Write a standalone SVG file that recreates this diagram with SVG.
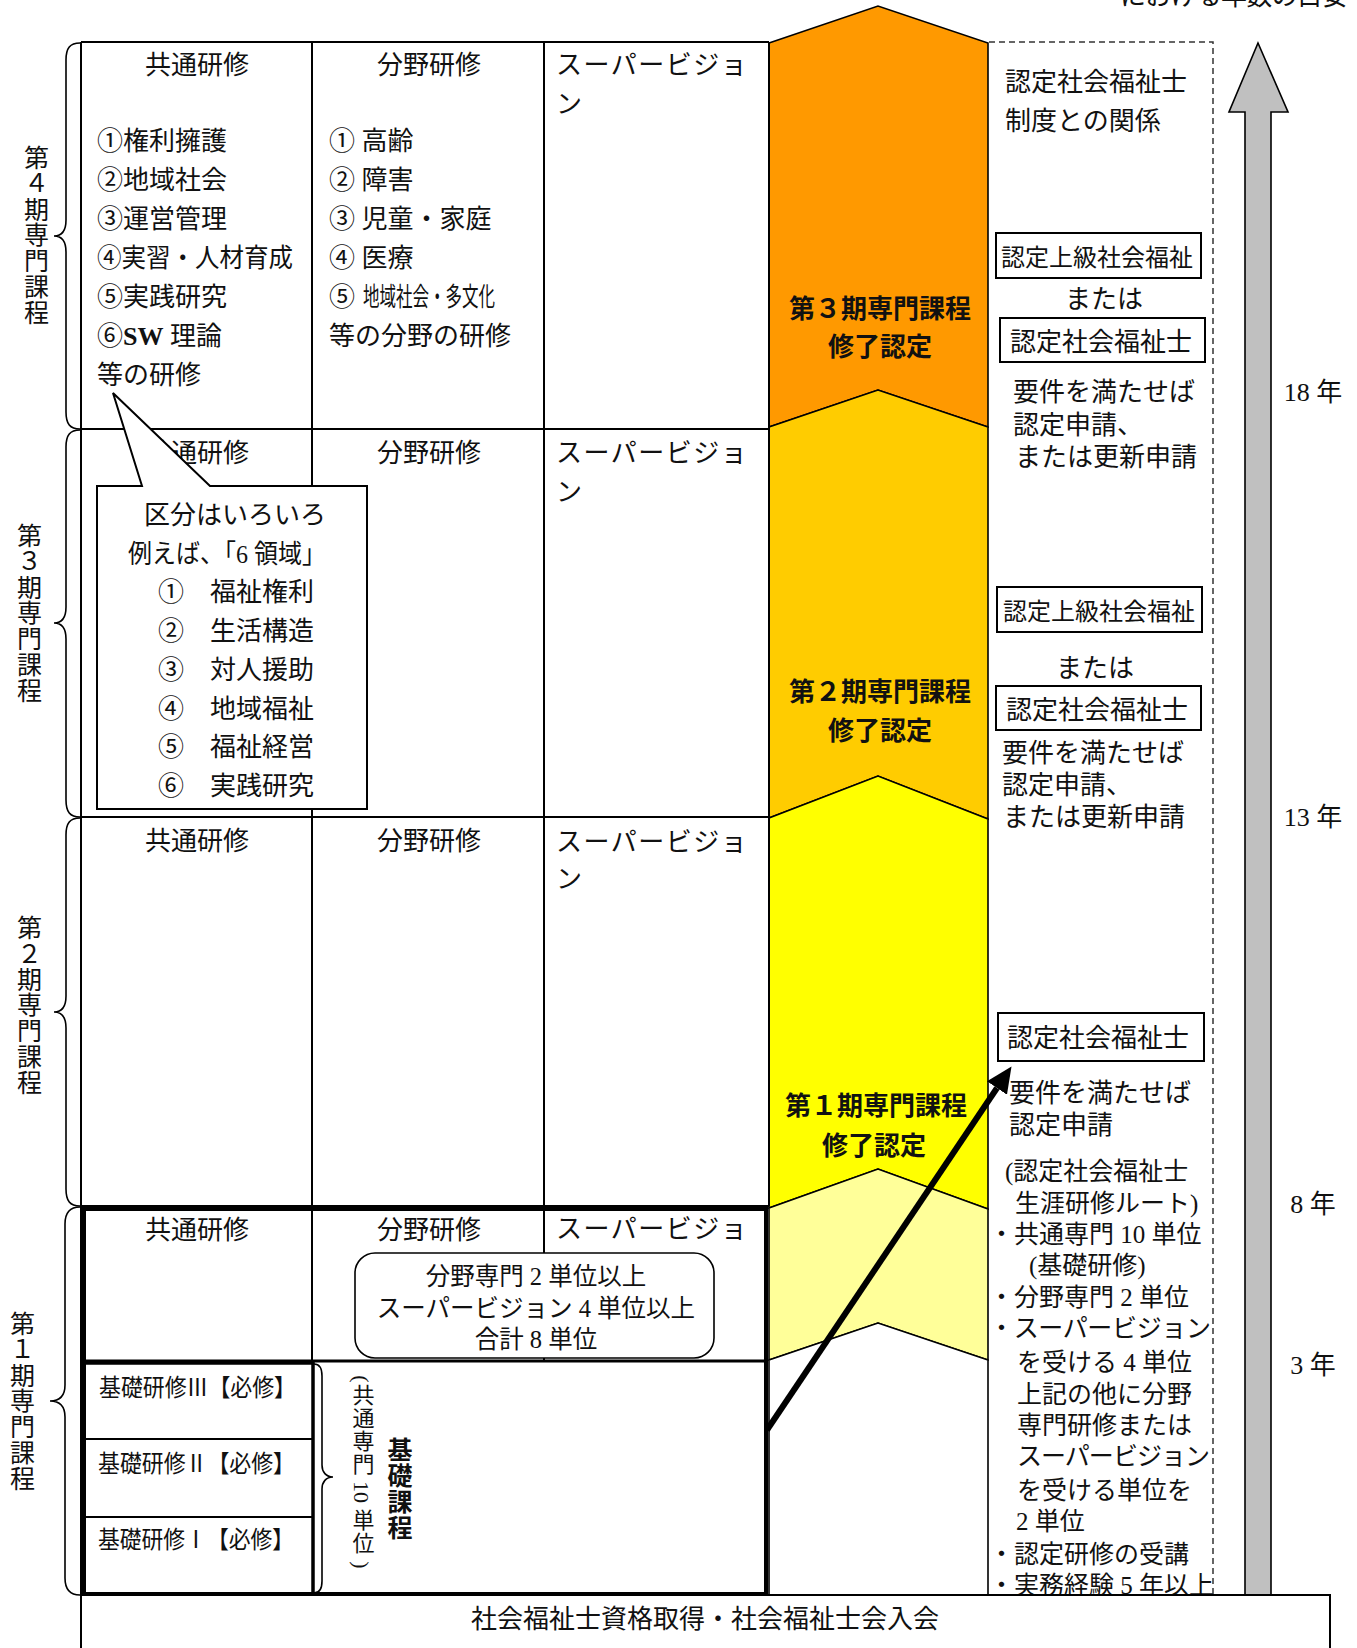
<svg xmlns="http://www.w3.org/2000/svg" width="1357" height="1648" viewBox="0 0 1357 1648">
<defs>
<style>
.m{font-family:"Liberation Serif","Noto Sans CJK JP",serif;font-size:26px;fill:#111}
.b{font-family:"Noto Sans CJK JP","Liberation Sans",sans-serif;font-weight:bold;font-size:26px;fill:#111}
.s{font-size:25px}
.f22{font-size:22px}
.f23{font-size:23px}
.f24{font-size:24px}
.f245{font-size:24.5px}
.f25{font-size:25px}
.ln{stroke:#000;stroke-width:2;fill:none}
.thk{stroke:#000;stroke-width:4;fill:none}
.br{stroke:#000;stroke-width:1.6;fill:none}
.chev{stroke:#000;stroke-width:1.6}
.bx{fill:#fff;stroke:#000;stroke-width:2}
.sv{letter-spacing:1.5px}
.vt{writing-mode:vertical-rl}
.rot{text-anchor:middle;dominant-baseline:central}
.lab{font-size:25px;letter-spacing:0.8px}
</style>
<marker id="ah" markerUnits="userSpaceOnUse" markerWidth="28" markerHeight="26" refX="0" refY="12" orient="auto">
<path d="M0,0 L26,12 L0,24 Z" fill="#000"/>
</marker>
</defs>
<rect x="0" y="0" width="1357" height="1648" fill="#fff"/>

<text id="caption" class="m" x="1120" y="5" textLength="228">における年数の目安</text>

<g id="arrow-column">
<polygon class="chev" fill="#FF9900" points="769,43 878,6 988,43 988,427 878,390 769,427"/>
<polygon class="chev" fill="#FFCC00" points="769,427 878,390 988,427 988,819 878,776 769,818"/>
<polygon class="chev" fill="#FFFF00" points="769,818 878,776 988,819 988,1209 878,1169 769,1208"/>
<polygon class="chev" fill="#FFFF99" points="769,1208 878,1169 988,1209 988,1360 878,1323 769,1360"/>
<polygon class="chev" fill="#FFFFFF" points="769,1360 878,1323 988,1360 988,1595 769,1595"/>
<text class="b" x="880" y="318" text-anchor="middle">第３期専門課程</text>
<text class="b" x="880" y="356" text-anchor="middle">修了認定</text>
<text class="b" x="880" y="701" text-anchor="middle">第２期専門課程</text>
<text class="b" x="880" y="740" text-anchor="middle">修了認定</text>
<text class="b" x="876" y="1115" text-anchor="middle">第１期専門課程</text>
<text class="b" x="874" y="1155" text-anchor="middle">修了認定</text>
</g>

<g id="table-grid">
<line class="ln" x1="81" y1="42" x2="769" y2="42"/>
<line class="ln" x1="81" y1="429" x2="769" y2="429"/>
<line class="ln" x1="81" y1="817" x2="769" y2="817"/>
<line class="ln" x1="81" y1="1206" x2="769" y2="1206"/>
<line class="ln" x1="81" y1="42" x2="81" y2="1648"/>
<line class="ln" x1="312" y1="42" x2="312" y2="1361"/>
<line class="ln" x1="544" y1="42" x2="544" y2="1361"/>
<line class="ln" x1="769" y1="42" x2="769" y2="1206"/>
</g>

<g id="phase4">
<text class="m" x="197" y="74" text-anchor="middle">共通研修</text>
<text class="m" x="429" y="74" text-anchor="middle">分野研修</text>
<text class="m sv" x="556" y="74">スーパービジョ</text>
<text class="m" x="556" y="113">ン</text>
<text class="m" x="97" y="150">①権利擁護</text>
<text class="m" x="97" y="189">②地域社会</text>
<text class="m" x="97" y="228">③運営管理</text>
<text class="m" x="97" y="267" textLength="196" lengthAdjust="spacingAndGlyphs">④実習・人材育成</text>
<text class="m" x="97" y="306">⑤実践研究</text>
<text class="m" x="97" y="345">⑥<tspan font-weight="bold">SW</tspan> 理論</text>
<text class="m" x="97" y="384">等の研修</text>
<text class="m" x="329" y="150">① 高齢</text>
<text class="m" x="329" y="189">② 障害</text>
<text class="m" x="329" y="228">③ 児童・家庭</text>
<text class="m" x="329" y="267">④ 医療</text>
<text class="m" x="329" y="306">⑤</text>
<text class="m" x="363" y="306" textLength="132" lengthAdjust="spacingAndGlyphs">地域社会・多文化</text>
<text class="m" x="329" y="345">等の分野の研修</text>
</g>

<g id="phase3">
<text class="m" x="197" y="462" text-anchor="middle">共通研修</text>
<text class="m" x="429" y="462" text-anchor="middle">分野研修</text>
<text class="m sv" x="556" y="462">スーパービジョ</text>
<text class="m" x="556" y="501">ン</text>
</g>

<g id="callout">
<path class="bx" d="M97,486 L142,486 L113,393 L210,486 L367,486 L367,809 L97,809 Z"/>
<text class="m" x="144" y="524">区分はいろいろ</text>
<text class="m" x="128" y="563" textLength="198" lengthAdjust="spacingAndGlyphs">例えば、「6 領域」</text>
<text class="m" x="158" y="601">①　福祉権利</text>
<text class="m" x="158" y="640">②　生活構造</text>
<text class="m" x="158" y="679">③　対人援助</text>
<text class="m" x="158" y="718">④　地域福祉</text>
<text class="m" x="158" y="756">⑤　福祉経営</text>
<text class="m" x="158" y="795">⑥　実践研究</text>
</g>

<g id="phase2">
<text class="m" x="197" y="850" text-anchor="middle">共通研修</text>
<text class="m" x="429" y="850" text-anchor="middle">分野研修</text>
<text class="m sv" x="556" y="851">スーパービジョ</text>
<text class="m" x="556" y="888">ン</text>
</g>

<g id="phase1">
<rect class="thk" x="84" y="1209" width="682" height="385"/>
<line x1="84" y1="1361" x2="766" y2="1361" stroke="#000" stroke-width="3"/>
<text class="m" x="197" y="1239" text-anchor="middle">共通研修</text>
<text class="m" x="429" y="1239" text-anchor="middle">分野研修</text>
<text class="m sv" x="556" y="1238">スーパービジョ</text>
<rect x="355" y="1253" width="359" height="105" rx="20" ry="20" fill="#fff" stroke="#000" stroke-width="1.6"/>
<text class="m f245" x="536" y="1285" text-anchor="middle">分野専門 2 単位以上</text>
<text class="m f245" x="536" y="1317" text-anchor="middle">スーパービジョン 4 単位以上</text>
<text class="m f245" x="536" y="1348" text-anchor="middle">合計 8 単位</text>
</g>

<g id="kiso">
<rect x="82" y="1363" width="231" height="231" fill="none" stroke="#000" stroke-width="3.5"/>
<line class="ln" x1="82" y1="1439" x2="313" y2="1439"/>
<line class="ln" x1="82" y1="1517" x2="313" y2="1517"/>
<text class="m f24" x="99" y="1396" textLength="197" lengthAdjust="spacingAndGlyphs">基礎研修Ⅲ【必修】</text>
<text class="m f24" x="98" y="1472" textLength="197" lengthAdjust="spacingAndGlyphs">基礎研修Ⅱ【必修】</text>
<text class="m f24" x="98" y="1548" textLength="196" lengthAdjust="spacingAndGlyphs">基礎研修Ⅰ【必修】</text>
<path class="br" d="M314,1364 C319,1364 322,1368 322,1376 L322,1465 C322,1472 326,1477 333,1477 C326,1477 322,1482 322,1489 L322,1581 C322,1589 319,1593 314,1593"/>
<text class="m f22 rot" transform="translate(361,1379) rotate(90)">(</text>
<text class="m f22 vt" x="361" y="1384" letter-spacing="1">共通専門</text>
<text class="m f22 rot" transform="translate(361,1492) rotate(90)">10</text>
<text class="m f22 vt" x="361" y="1509" letter-spacing="1">単位</text>
<text class="m f22 rot" transform="translate(361,1565) rotate(90)">)</text>
<text class="b f25 vt" x="400" y="1437" letter-spacing="1">基礎課程</text>
</g>

<g id="phase-labels">
<path class="br" d="M80,43 C70,43 66,48 66,60 L66,220 C66,230 62,236 54,236 C62,236 66,242 66,252 L66,412 C66,424 70,429 80,429"/>
<path class="br" d="M80,430 C70,430 66,435 66,447 L66,607 C66,617 62,623 54,623 C62,623 66,629 66,639 L66,800 C66,812 70,817 80,817"/>
<path class="br" d="M80,818 C70,818 66,823 66,835 L66,996 C66,1006 62,1012 54,1012 C62,1012 66,1018 66,1028 L66,1189 C66,1201 70,1206 80,1206"/>
<path class="br" d="M80,1207 C70,1207 65,1212 65,1224 L65,1385 C65,1395 60,1401 50,1401 C60,1401 65,1407 65,1417 L65,1578 C65,1590 70,1595 80,1595"/>
<text class="m vt lab" x="34" y="145">第４期専門課程</text>
<text class="m vt lab" x="27" y="523">第３期専門課程</text>
<text class="m vt lab" x="27" y="915">第２期専門課程</text>
<text class="m vt lab" x="20" y="1311">第１期専門課程</text>
</g>

<g id="certification">
<polyline points="989,42 1213,42 1213,1595" fill="none" stroke="#333" stroke-width="1.5" stroke-dasharray="6 4"/>
<text class="m" x="1005" y="91">認定社会福祉士</text>
<text class="m" x="1005" y="130">制度との関係</text>
<rect class="bx" x="996" y="233" width="205" height="45"/>
<text class="m f24" x="1001" y="266" textLength="192">認定上級社会福祉</text>
<text class="m" x="1065" y="308">または</text>
<rect class="bx" x="1000" y="318" width="205" height="44"/>
<text class="m" x="1010" y="351">認定社会福祉士</text>
<text class="m" x="1013" y="401">要件を満たせば</text>
<text class="m" x="1013" y="434">認定申請、</text>
<text class="m" x="1015" y="466">または更新申請</text>
<rect class="bx" x="997" y="587" width="205" height="45"/>
<text class="m f24" x="1003" y="620" textLength="192">認定上級社会福祉</text>
<text class="m" x="1056" y="677">または</text>
<rect class="bx" x="996" y="686" width="205" height="44"/>
<text class="m" x="1006" y="719">認定社会福祉士</text>
<text class="m" x="1002" y="762">要件を満たせば</text>
<text class="m" x="1002" y="794">認定申請、</text>
<text class="m" x="1003" y="826">または更新申請</text>
<rect class="bx" x="998" y="1013" width="206" height="48"/>
<text class="m" x="1007" y="1047">認定社会福祉士</text>
<text class="m" x="1009" y="1102">要件を満たせば</text>
<text class="m" x="1009" y="1134">認定申請</text>
<text class="m s" x="1005" y="1180">(認定社会福祉士</text>
<text class="m s" x="1015" y="1212">生涯研修ルート)</text>
<text class="m s" x="989" y="1243">・共通専門 10 単位</text>
<text class="m s" x="1029" y="1274">(基礎研修)</text>
<text class="m s" x="989" y="1306">・分野専門 2 単位</text>
<text class="m s" x="989" y="1337" textLength="222">・スーパービジョン</text>
<text class="m s" x="1017" y="1371">を受ける 4 単位</text>
<text class="m s" x="1017" y="1403">上記の他に分野</text>
<text class="m s" x="1017" y="1434">専門研修または</text>
<text class="m s" x="1017" y="1465" textLength="193">スーパービジョン</text>
<text class="m s" x="1017" y="1499">を受ける単位を</text>
<text class="m s" x="1016" y="1530">2 単位</text>
<text class="m s" x="989" y="1563">・認定研修の受講</text>
<text class="m s" x="989" y="1594">・実務経験 5 年以上</text>
</g>

<g id="years">
<polygon points="1258,43 1288,112 1271,112 1271,1595 1245,1595 1245,112 1229,112" fill="#C0C0C0" stroke="#000" stroke-width="1.6"/>
<text class="m" x="1313" y="401" text-anchor="middle">18 年</text>
<text class="m" x="1313" y="826" text-anchor="middle">13 年</text>
<text class="m" x="1313" y="1213" text-anchor="middle">8 年</text>
<text class="m" x="1313" y="1374" text-anchor="middle">3 年</text>
</g>

<g id="connectors">
<line x1="767" y1="1430" x2="997" y2="1088" stroke="#000" stroke-width="6" marker-end="url(#ah)"/>
</g>

<g id="base">
<rect class="bx" x="81" y="1595" width="1249" height="70"/>
<text class="m" x="705" y="1628" text-anchor="middle">社会福祉士資格取得・社会福祉士会入会</text>
</g>
</svg>
